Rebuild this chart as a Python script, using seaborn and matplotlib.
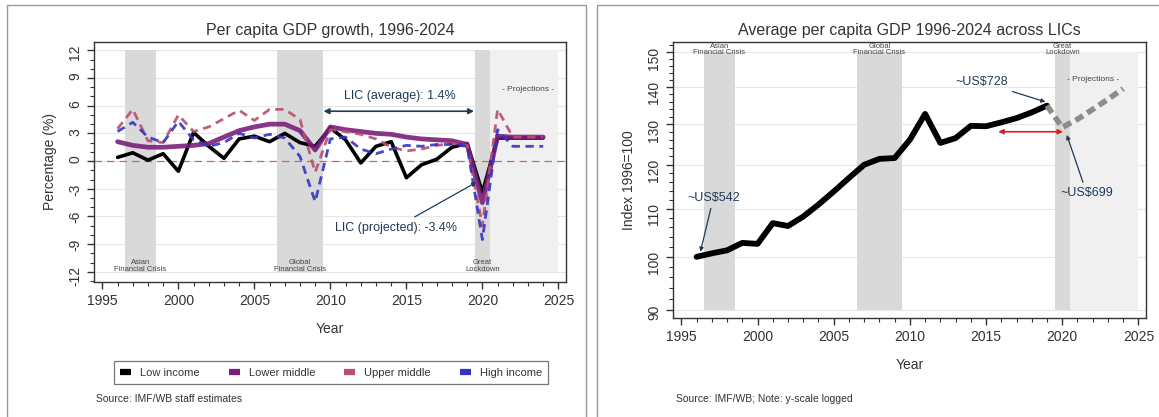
import matplotlib
matplotlib.use("Agg")
import matplotlib.pyplot as plt
from matplotlib import font_manager
from matplotlib.lines import Line2D
from matplotlib.patches import Rectangle
from matplotlib.ticker import MultipleLocator, FixedLocator, NullFormatter
import seaborn as sns

# Left panel: per capita GDP growth (%), 1996-2024
YEARS = list(range(1996, 2025))
LOW_INCOME = [0.4, 0.9, 0.1, 0.8, -1.1, 3.1, 1.6, 0.3, 2.4, 2.7, 2.1, 3.0, 2.0,
              1.6, 3.6, 2.3, -0.2, 1.6, 2.1, -1.8, -0.4, 0.2, 1.5, 1.9, -3.4,
              2.5, 2.5, 2.5, 2.5]
LOWER_MIDDLE = [2.1, 1.7, 1.5, 1.5, 1.6, 1.7, 1.9, 2.6, 3.3, 3.7, 4.0, 4.0, 3.3,
                1.2, 3.7, 3.4, 3.2, 3.0, 2.9, 2.6, 2.4, 2.3, 2.2, 1.8, -4.5,
                2.7, 2.6, 2.6, 2.6]
UPPER_MIDDLE = [3.5, 5.6, 2.2, 2.0, 5.0, 3.2, 3.7, 4.6, 5.5, 4.4, 5.6, 5.6, 4.5,
                -1.2, 3.4, 3.2, 2.9, 2.4, 1.5, 1.1, 1.3, 1.7, 1.9, 1.7, -7.0,
                5.6, 2.6, 2.6, 2.6]
HIGH_INCOME = [3.2, 4.2, 2.6, 2.0, 4.3, 2.3, 1.6, 2.0, 3.0, 2.5, 2.9, 2.5, 0.5,
               -4.4, 2.4, 2.6, 1.3, 0.8, 1.3, 1.7, 1.6, 1.8, 1.8, 1.6, -8.5,
               3.4, 1.6, 1.6, 1.6]
SERIES = ["Low income", "Lower middle", "Upper middle", "High income"]

# Right panel: LIC per capita GDP index (1996=100), log scale
INDEX_YEARS = list(range(1996, 2020))
LIC_INDEX = [100.0, 100.7, 101.3, 102.8, 102.6, 106.9, 106.3, 108.3, 110.9,
             113.8, 116.9, 120.0, 121.4, 121.6, 126.1, 132.7, 125.3, 126.5,
             129.6, 129.5, 130.5, 131.6, 133.1, 134.9]
PROJ_YEARS = list(range(2019, 2025))
LIC_PROJ = [134.9, 129.2, 131.3, 133.9, 136.6, 139.5]

CRISES = [("Asian\nFinancial Crisis", 1996.5, 1998.5),
          ("Global\nFinancial Crisis", 2006.5, 2009.5),
          ("Great\nLockdown", 2019.5, 2020.5)]
PROJ_SPAN = (2020.5, 2025)

SHADE = "#d9d9d9"
LIGHT = "#f0f0f0"
NAVY = "#1f3a56"
INK = "#333333"
COLORS = {"Low income": "#000000", "Lower middle": "#7a1f7c",
          "Upper middle": "#b8506e", "High income": "#3434c4"}

sns.set_style("ticks")
plt.rcParams["font.family"] = ["Liberation Sans", "DejaVu Sans"]
plt.rcParams["axes.unicode_minus"] = False

names = {f.name for f in font_manager.fontManager.ttflist}
if "Liberation Sans Narrow" in names:
    NOTE_FONT, NOTE_SIZE = ["Liberation Sans Narrow", "Liberation Sans"], 11
else:
    NOTE_FONT, NOTE_SIZE = ["Liberation Sans", "DejaVu Sans"], 9

W, H = 1159, 417
fig = plt.figure(figsize=(W / 100, H / 100), dpi=100)
fig.patch.set_facecolor("white")

ax1 = fig.add_axes([94 / W, 1 - 282 / H, 472 / W, 240 / H])
ax2 = fig.add_axes([673 / W, 1 - 318 / H, 473 / W, 276 / H])


def style_axes(ax):
    for sp in ax.spines.values():
        sp.set_color(INK)
        sp.set_linewidth(1.0)
    ax.tick_params(which="major", length=5, width=1, color=INK,
                   labelsize=10, labelcolor=INK)
    ax.tick_params(which="minor", length=3, width=0.8, color=INK)
    ax.tick_params(axis="y", labelrotation=90)
    ax.xaxis.set_major_locator(FixedLocator([1995, 2000, 2005, 2010, 2015, 2020, 2025]))
    ax.xaxis.set_minor_locator(MultipleLocator(1))
    ax.set_xlim(1994.45, 2025.5)
    ax.set_xlabel("Year", fontsize=10, color=INK, labelpad=10)
    ax.set_facecolor("white")


# ---- left panel ----
ax = ax1
style_axes(ax)
ax.set_ylim(-13.1, 12.9)
ax.set_yticks(range(-12, 13, 3))
ax.yaxis.set_minor_locator(MultipleLocator(1))
for v in range(-12, 13, 3):
    ax.axhline(v, color="#e6e6e6", lw=0.8, zorder=0)
ax.fill_between(PROJ_SPAN, -12, 12, color=LIGHT, lw=0, zorder=0.5)
for label, x0, x1 in CRISES:
    ax.fill_between([x0, x1], -12, 12, color=SHADE, lw=0, zorder=0.6)
    ax.text((x0 + x1) / 2, -12.1, label, fontsize=5.5, color="#444444",
            ha="center", va="bottom", linespacing=0.95, zorder=5)
ax.axhline(0, color="#c46a6a", lw=0.9, ls=(0, (6, 4)), zorder=1)

ax.set_ylabel("Percentage (%)", fontsize=10, color=INK, labelpad=8)
ax.set_title("Per capita GDP growth, 1996-2024", fontsize=11.5, color=INK, pad=5)

series_data = [LOW_INCOME, LOWER_MIDDLE, UPPER_MIDDLE, HIGH_INCOME]
styles = {"Low income": dict(lw=2.6, ls="-", alpha=1.0),
          "Lower middle": dict(lw=3.4, ls="-", alpha=0.9),
          "Upper middle": dict(lw=2.0, ls=(0, (3, 2)), alpha=0.9),
          "High income": dict(lw=2.0, ls=(0, (3, 2)), alpha=0.9)}
for name, vals in zip(SERIES, series_data):
    st = styles[name]
    sns.lineplot(x=YEARS, y=vals, ax=ax, color=COLORS[name], lw=st["lw"],
                 linestyle=st["ls"], alpha=st["alpha"], zorder=3)

ax.annotate("", xy=(2009.55, 5.4), xytext=(2019.45, 5.4),
            arrowprops=dict(arrowstyle="<|-|>", color=NAVY, lw=1.2,
                            mutation_scale=8, shrinkA=0, shrinkB=0), zorder=6)
ax.text(2014.6, 7.0, "LIC (average): 1.4%", family=NOTE_FONT,
        fontsize=NOTE_SIZE, color=NAVY, ha="center", va="center", zorder=6)
ax.annotate("LIC (projected): -3.4%", xy=(2019.6, -2.3), xytext=(2014.3, -7.2),
            family=NOTE_FONT, fontsize=NOTE_SIZE, color=NAVY,
            ha="center", va="center", zorder=6,
            arrowprops=dict(arrowstyle="-|>", color=NAVY, lw=0.9,
                            mutation_scale=6, shrinkA=2, shrinkB=0))
ax.text(2023.0, 7.8, "- Projections -", fontsize=6, color="#444444",
        ha="center", va="center")

# ---- right panel ----
ax = ax2
style_axes(ax)
ax.set_yscale("log")
ax.set_ylim(88.6, 153)
ax.yaxis.set_major_locator(FixedLocator([90, 100, 110, 120, 130, 140, 150]))
ax.yaxis.set_major_formatter(plt.FuncFormatter(lambda v, p: f"{v:.0f}"))
ax.yaxis.set_minor_locator(FixedLocator([v for v in range(88, 153, 2) if v % 10]))
ax.yaxis.set_minor_formatter(NullFormatter())
for v in [90, 100, 110, 120, 130, 140, 150]:
    ax.axhline(v, color="#e6e6e6", lw=0.8, zorder=0)
ax.fill_between(PROJ_SPAN, 90, 150, color=LIGHT, lw=0, zorder=0.5)
for label, x0, x1 in CRISES:
    ax.fill_between([x0, x1], 90, 150, color=SHADE, lw=0, zorder=0.6)
    ax.text((x0 + x1) / 2, 152.8, label, fontsize=5.5, color="#444444",
            ha="center", va="top", linespacing=0.95, zorder=5)

ax.set_ylabel("Index 1996=100", fontsize=10, color=INK, labelpad=8)
ax.set_title("Average per capita GDP 1996-2024 across LICs", fontsize=11.5,
             color=INK, pad=5)

sns.lineplot(x=INDEX_YEARS, y=LIC_INDEX, ax=ax, color="black", lw=4.2, zorder=3)
sns.lineplot(x=PROJ_YEARS, y=LIC_PROJ, ax=ax, color="#8c8c8c", lw=4,
             linestyle=(0, (1.6, 0.9)), zorder=3)

arrow = dict(arrowstyle="-|>", color=NAVY, lw=0.9, mutation_scale=6,
             shrinkA=1, shrinkB=0)
ax.annotate("~US$542", xy=(1996.25, 101.0), xytext=(1997.1, 112.4),
            family=NOTE_FONT, fontsize=NOTE_SIZE, color=NAVY,
            ha="center", va="center", arrowprops=arrow, zorder=6)
ax.annotate("~US$728", xy=(2018.9, 135.9), xytext=(2014.7, 141.4),
            family=NOTE_FONT, fontsize=NOTE_SIZE, color=NAVY,
            ha="center", va="center", arrowprops=arrow, zorder=6)
ax.annotate("~US$699", xy=(2020.3, 127.3), xytext=(2021.6, 113.5),
            family=NOTE_FONT, fontsize=NOTE_SIZE, color=NAVY,
            ha="center", va="center", arrowprops=arrow, zorder=6)
ax.annotate("", xy=(2015.8, 128.1), xytext=(2020.05, 128.1),
            arrowprops=dict(arrowstyle="<|-|>", color="#d42222", lw=1.2,
                            mutation_scale=7, shrinkA=0, shrinkB=0), zorder=6)
ax.text(2022.0, 142.0, "- Projections -", fontsize=6, color="#444444",
        ha="center", va="center")

# ---- legend, sources, panel frames ----
handles = [Line2D([], [], color=COLORS[n], lw=4.5, solid_capstyle="butt")
           for n in SERIES]
leg = fig.legend(handles, SERIES, loc="center",
                 bbox_to_anchor=(331 / W, 1 - 372.5 / H), ncol=4,
                 frameon=True, fancybox=False, fontsize=8, handlelength=1.0,
                 handletextpad=0.8, columnspacing=2.6, borderpad=0.55)
leg.get_frame().set_edgecolor("#555555")
leg.get_frame().set_linewidth(0.9)
for t in leg.get_texts():
    t.set_color(INK)

fig.text(96 / W, 1 - 399 / H, "Source: IMF/WB staff estimates", fontsize=7.5,
         color=INK, va="center")
fig.text(676 / W, 1 - 399 / H, "Source: IMF/WB; Note: y-scale logged",
         fontsize=7.5, color=INK, va="center")

fig.add_artist(Rectangle((7 / W, -0.02), 579 / W, 1.02 - 5 / H,
                         transform=fig.transFigure, fill=False,
                         ec="#9a9a9a", lw=1.0))
fig.add_artist(Rectangle((597 / W, -0.02), 570 / W, 1.02 - 5 / H,
                         transform=fig.transFigure, fill=False,
                         ec="#9a9a9a", lw=1.0))

fig.savefig("out.png", dpi=100, facecolor="white")
